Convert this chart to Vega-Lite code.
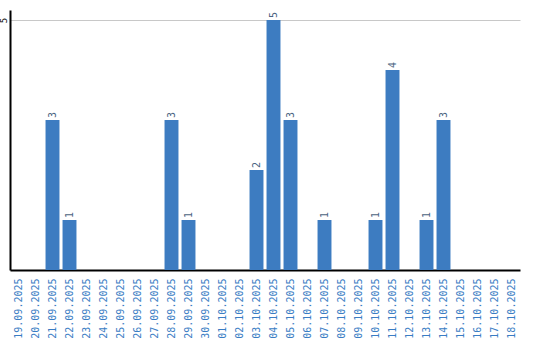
{
  "$schema": "https://vega.github.io/schema/vega-lite/v6.json",
  "width": 520,
  "height": 260,
  "autosize": "none",
  "padding": {"left": 10, "top": 10, "right": 10, "bottom": 70},
  "background": "white",
  "config": {"view": {"stroke": null}},
  "data": {"values": [
    {"d": "19.09.2025", "v": 0}, {"d": "20.09.2025", "v": 0}, {"d": "21.09.2025", "v": 3},
    {"d": "22.09.2025", "v": 1}, {"d": "23.09.2025", "v": 0}, {"d": "24.09.2025", "v": 0},
    {"d": "25.09.2025", "v": 0}, {"d": "26.09.2025", "v": 0}, {"d": "27.09.2025", "v": 0},
    {"d": "28.09.2025", "v": 3}, {"d": "29.09.2025", "v": 1}, {"d": "30.09.2025", "v": 0},
    {"d": "01.10.2025", "v": 0}, {"d": "02.10.2025", "v": 0}, {"d": "03.10.2025", "v": 2},
    {"d": "04.10.2025", "v": 5}, {"d": "05.10.2025", "v": 3}, {"d": "06.10.2025", "v": 0},
    {"d": "07.10.2025", "v": 1}, {"d": "08.10.2025", "v": 0}, {"d": "09.10.2025", "v": 0},
    {"d": "10.10.2025", "v": 1}, {"d": "11.10.2025", "v": 4}, {"d": "12.10.2025", "v": 0},
    {"d": "13.10.2025", "v": 1}, {"d": "14.10.2025", "v": 3}, {"d": "15.10.2025", "v": 0},
    {"d": "16.10.2025", "v": 0}, {"d": "17.10.2025", "v": 0}, {"d": "18.10.2025", "v": 0}
  ]},
  "encoding": {
    "x": {"field": "d", "type": "ordinal", "sort": null,
      "scale": {"range": [0, 510], "paddingInner": 0.18, "paddingOuter": 0.09},
      "axis": {"title": null, "labelAngle": -90, "labelAlign": "right", "labelBaseline": "middle",
        "labelColor": "#3a7dc4", "labelFont": "DejaVu Sans Mono", "labelFontSize": 10,
        "ticks": false, "labelPadding": 8, "domainColor": "#000", "domainWidth": 2, "grid": false}},
    "y": {"field": "v", "type": "quantitative",
      "scale": {"domain": [0, 5.2], "nice": false},
      "axis": {"title": null, "values": [5], "labelAngle": -90, "labelAlign": "center", "labelBaseline": "bottom",
        "labelFont": "DejaVu Sans Mono", "labelFontSize": 9, "labelColor": "#000", "labelPadding": 2,
        "ticks": false, "domainColor": "#000", "domainWidth": 2, "gridColor": "#c8c8c8", "gridWidth": 1}}
  },
  "layer": [
    {"mark": {"type": "bar", "color": "#3d7cc1"}},
    {"transform": [{"filter": "datum.v > 0"}],
     "mark": {"type": "text", "angle": -90, "align": "left", "baseline": "middle", "dx": 2,
       "font": "DejaVu Sans Mono", "fontSize": 10, "color": "#4b6482"},
     "encoding": {"text": {"field": "v", "type": "quantitative"}}}
  ]
}
